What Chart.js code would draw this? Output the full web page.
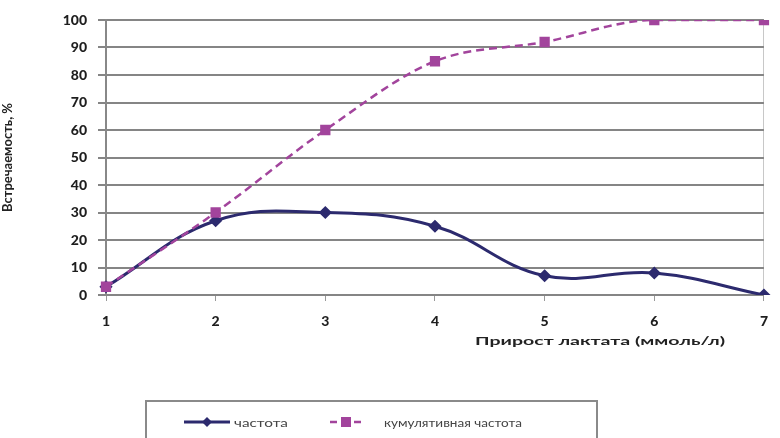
<!DOCTYPE html>
<html>
<head>
<meta charset="utf-8">
<script src="https://cdn.jsdelivr.net/npm/chart.js@4"></script>
<style>
  html, body { margin: 0; padding: 0; background: #fff; }
  #wrap { width: 780px; height: 438px; }
</style>
</head>
<body>
<div id="wrap"><canvas id="myChart"></canvas></div>
<script>
const categories = ['1', '2', '3', '4', '5', '6', '7'];
const frequency = [3, 27, 30, 25, 7, 8, 0];
const cumulative = [3, 30, 60, 85, 92, 100, 100];
const seriesNames = ['частота', 'кумулятивная частота'];
const yTitle = 'Встречаемость, %';
const xTitle = 'Прирост лактата (ммоль/л)';

const navy = '#2c2a6e';
const magenta = '#a2449c';
const gridGrey = '#858585';

// draw text stretched to a given width (the source picture is stretched sideways)
function wideText(ctx, text, cx, cy, width) {
    const w = ctx.measureText(text).width;
    ctx.save();
    ctx.translate(cx, cy);
    ctx.scale(width / w, 1);
    ctx.fillText(text, 0, 0);
    ctx.restore();
}

// axis title + boxed legend like the excel one
const extras = {
    id: 'extras',
    afterDraw(chart) {
        const ctx = chart.ctx;
        ctx.save();
        ctx.fillStyle = '#222';
        ctx.font = 'bold 12px Lato, sans-serif';
        ctx.textAlign = 'center';
        ctx.textBaseline = 'middle';
        wideText(ctx, xTitle, 600, 341, 250);

        ctx.strokeStyle = '#8a8a8a';
        ctx.lineWidth = 2;
        ctx.strokeRect(146, 401, 451, 50);

        // item 1
        ctx.strokeStyle = navy;
        ctx.lineWidth = 3;
        ctx.beginPath();
        ctx.moveTo(184, 422);
        ctx.lineTo(230, 422);
        ctx.stroke();
        ctx.fillStyle = navy;
        ctx.beginPath();
        ctx.moveTo(207, 417); ctx.lineTo(212, 422); ctx.lineTo(207, 427); ctx.lineTo(202, 422);
        ctx.closePath();
        ctx.fill();

        // item 2
        ctx.strokeStyle = magenta;
        ctx.lineWidth = 2.5;
        ctx.setLineDash([7, 5]);
        ctx.beginPath();
        ctx.moveTo(330, 422);
        ctx.lineTo(362, 422);
        ctx.stroke();
        ctx.setLineDash([]);
        ctx.fillStyle = magenta;
        ctx.fillRect(341, 417, 10, 10);

        ctx.fillStyle = '#444';
        ctx.font = '12px Lato, sans-serif';
        ctx.textAlign = 'center';
        wideText(ctx, seriesNames[0], 261, 423, 54);
        wideText(ctx, seriesNames[1], 453, 423, 138);
        ctx.restore();
    }
};

const chart = new Chart(document.getElementById('myChart'), {
    type: 'line',
    data: {
        labels: categories,
        datasets: [{
            label: seriesNames[0],
            data: frequency,
            borderColor: navy,
            backgroundColor: navy,
            borderWidth: 3,
            tension: 0.4,
            pointStyle: 'rectRot',
            pointRadius: 4.5,
            pointHoverRadius: 4.5,
            order: 1
        }, {
            label: seriesNames[1],
            data: cumulative,
            borderColor: magenta,
            backgroundColor: magenta,
            borderWidth: 2.5,
            borderDash: [8, 5],
            cubicInterpolationMode: 'monotone',
            pointStyle: 'rect',
            pointRadius: 5.5,
            pointHoverRadius: 5.5,
            order: 0
        }]
    },
    options: {
        responsive: true,
        maintainAspectRatio: false,
        animation: false,
        layout: { padding: { top: 20, right: 7, left: 0, bottom: 0 } },
        plugins: {
            legend: { display: false },
            tooltip: { enabled: false }
        },
        scales: {
            x: {
                offset: false,
                afterFit: (scale) => { scale.height = 143; },
                grid: {
                    color: (c) => c.index === categories.length - 1 ? '#c8c8c8' : 'rgba(0,0,0,0)',
                    tickColor: '#999',
                    tickLength: 6,
                    lineWidth: 1
                },
                border: { display: false },
                ticks: {
                    color: '#1e1e1e',
                    font: { family: 'Lato', weight: 900, size: 14 },
                    padding: 12,
                    maxRotation: 0
                }
            },
            y: {
                min: 0,
                max: 100,
                afterFit: (scale) => { scale.width = 106; },
                grid: {
                    color: gridGrey,
                    lineWidth: 2,
                    tickLength: 8
                },
                border: { color: '#888', width: 2 },
                ticks: {
                    stepSize: 10,
                    color: '#1e1e1e',
                    font: { family: 'Lato', weight: 900, size: 14 },
                    padding: 11
                },
                title: {
                    display: true,
                    text: yTitle,
                    color: '#222',
                    font: { family: 'Lato', weight: 'bold', size: 13 },
                    padding: { top: 0, bottom: 0 }
                }
            }
        }
    },
    plugins: [extras]
});
</script>
</body>
</html>
